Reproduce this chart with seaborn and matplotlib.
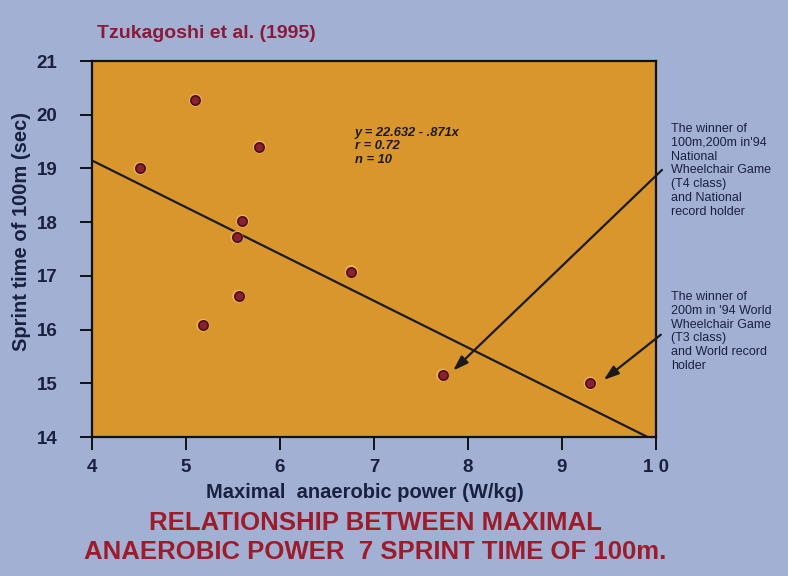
import matplotlib
matplotlib.use("Agg")
import matplotlib.pyplot as plt
import seaborn as sns
import numpy as np
import pandas as pd

# Data
power = [4.51, 5.10, 5.78, 5.60, 5.54, 5.56, 5.18, 6.76, 7.73, 9.30]
sprint = [19.00, 20.27, 19.40, 18.02, 17.72, 16.62, 16.08, 17.08, 15.15, 15.00]
intercept = 22.632
slope = -0.871
xticks = [4, 5, 6, 7, 8, 9, 10]
xticklabels = ["4", "5", "6", "7", "8", "9", "1 0"]
yticks = [14, 15, 16, 17, 18, 19, 20, 21]

df = pd.DataFrame({"power": power, "sprint": sprint})
line_x = np.array([4.0, 10.0])
line_df = pd.DataFrame({"x": line_x, "y": intercept + slope * line_x})

sns.set_style("ticks")
plt.rcParams["font.family"] = ["Liberation Sans", "DejaVu Sans"]

BG = "#a2b1d3"
ORANGE = "#d8962c"
NAVY = "#1a2040"
RED = "#9c1c2c"

fig = plt.figure(figsize=(7.88, 5.76), dpi=100, facecolor=BG)
ax = fig.add_axes([92/788, 1-437/576, 564/788, 376/576])
ax.set_facecolor(ORANGE)

sns.lineplot(data=line_df, x="x", y="y", ax=ax, color="#1a1a1a", lw=1.6)
sns.scatterplot(data=df, x="power", y="sprint", ax=ax, s=90, color="#f0b860",
                edgecolor="none", alpha=0.8, zorder=3)
sns.scatterplot(data=df, x="power", y="sprint", ax=ax, s=45, color="#8c2030",
                edgecolor="#4a0f1c", linewidth=1.2, zorder=4)

ax.set_xlim(4, 10)
ax.set_ylim(14, 21)
ax.set_xticks(xticks)
ax.set_xticklabels(xticklabels)
ax.set_yticks(yticks)
for s in ax.spines.values():
    s.set_color("#111111")
    s.set_linewidth(1.6)
ax.tick_params(axis="both", direction="out", length=9, width=1.4, color="#111111",
               labelsize=13.5, labelcolor=NAVY)
ax.tick_params(axis="y", pad=16)
ax.tick_params(axis="x", pad=7)
for lab in ax.get_xticklabels() + ax.get_yticklabels():
    lab.set_fontweight("bold")

ax.set_xlabel("")
ax.set_ylabel("")
fig.text(365/788, 1-492/576, "Maximal  anaerobic power (W/kg)", fontsize=14.5, color=NAVY,
         fontweight="bold", ha="center", va="center")
fig.text(22/788, 1-231/576, "Sprint time of 100m (sec)", fontsize=14.5, color=NAVY,
         fontweight="bold", ha="center", va="center", rotation=90)

ax.text(355/788, 1-127/576, "y = 22.632 - .871x\nr = 0.72\nn = 10", transform=fig.transFigure,
        fontsize=9.3, fontstyle="italic", fontweight="bold", color="#1a1a1a",
        va="top", ha="left", linespacing=1.15)

fig.text(97/788, 1-33/576, "Tzukagoshi et al. (1995)", fontsize=14, color="#8a1a3a",
         va="center", ha="left", fontweight="bold")

note_kw = dict(fontsize=9, color=NAVY, va="top", ha="left", linespacing=1.2,
               annotation_clip=False)
ax.annotate("The winner of\n100m,200m in'94\nNational\nWheelchair Game\n(T4 class)\nand National\nrecord holder",
            xy=(671/788, 1-123/576), xycoords="figure fraction", **note_kw)
ax.annotate("The winner of\n200m in '94 World\nWheelchair Game\n(T3 class)\nand World record\nholder",
            xy=(671/788, 1-291/576), xycoords="figure fraction", **note_kw)

arrow_kw = dict(arrowstyle="-|>,head_length=0.9,head_width=0.3", color="#1a1a1a", lw=1.6)
ax.annotate("", xy=(power[8] + 0.09, sprint[8] + 0.05), xycoords="data",
            xytext=(664/788, 1-168/576), textcoords="figure fraction",
            arrowprops=arrow_kw, annotation_clip=False)
ax.annotate("", xy=(power[9] + 0.12, sprint[9] + 0.03), xycoords="data",
            xytext=(663/788, 1-333/576), textcoords="figure fraction",
            arrowprops=arrow_kw, annotation_clip=False)

fig.text(375/788, 1-523/576, "RELATIONSHIP BETWEEN MAXIMAL", fontsize=18.5, color=RED,
         ha="center", va="center", fontweight="bold")
fig.text(375/788, 1-552/576, "ANAEROBIC POWER  7 SPRINT TIME OF 100m.", fontsize=18.5,
         color=RED, ha="center", va="center", fontweight="bold")

fig.savefig("out.png", dpi=100, facecolor=BG)
